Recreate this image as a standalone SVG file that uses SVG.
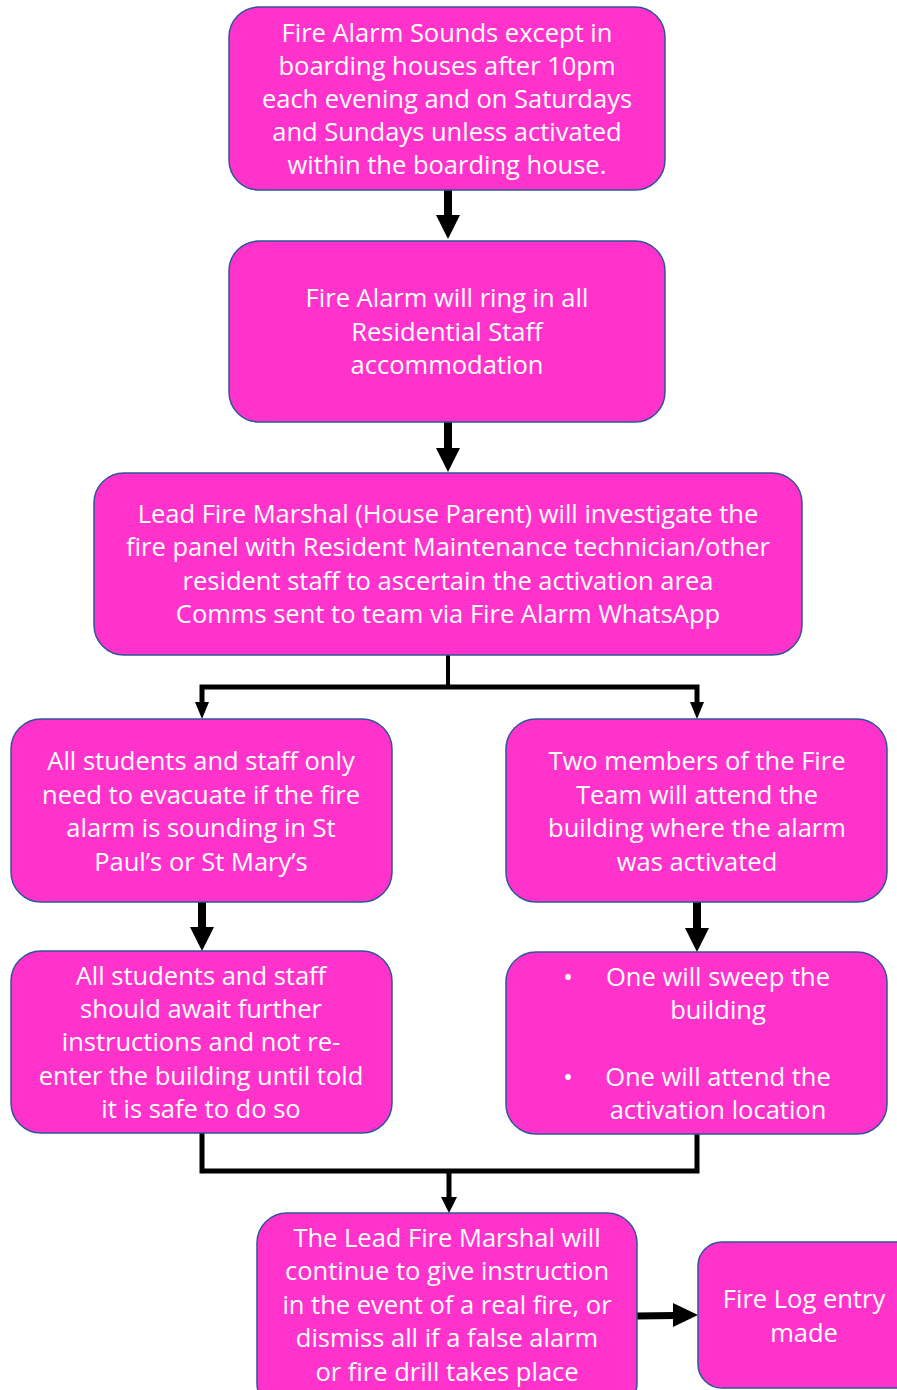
<svg xmlns="http://www.w3.org/2000/svg" width="897" height="1390" viewBox="0 0 897 1390">
<defs>
<style>
.box{fill:#FF33CC;stroke:#2F5597;stroke-width:1.5}
text{font-family:"Open Sans","Liberation Sans",sans-serif;font-size:25.5px;fill:#fff;text-anchor:middle}
.c{fill:none;stroke:#000;stroke-linejoin:miter}
.h{fill:#000}
</style>
</defs>
<rect width="897" height="1390" fill="#fff"/>
<g id="connectors">
<line class="c" x1="448" y1="190" x2="448" y2="216" stroke-width="8"/>
<polygon class="h" points="436,215 460,215 448,239"/>
<line class="c" x1="448" y1="422" x2="448" y2="449" stroke-width="8"/>
<polygon class="h" points="436,448 460,448 448,472"/>
<polyline class="c" points="448,655 448,687" stroke-width="4"/>
<polyline class="c" points="202,704 202,687 697,687 697,704" stroke-width="5"/>
<polygon class="h" points="195,702 209,702 202,719"/>
<polygon class="h" points="690,702 704,702 697,719"/>
<line class="c" x1="202" y1="902" x2="202" y2="928" stroke-width="8"/>
<polygon class="h" points="190,927 214,927 202,951"/>
<line class="c" x1="697" y1="902" x2="697" y2="929" stroke-width="8"/>
<polygon class="h" points="685,928 709,928 697,952"/>
<polyline class="c" points="202,1133 202,1171 697,1171 697,1134" stroke-width="5"/>
<line class="c" x1="449" y1="1171" x2="449" y2="1200" stroke-width="5"/>
<polygon class="h" points="441,1197 457,1197 449,1213"/>
<line class="c" x1="637" y1="1316" x2="675" y2="1315.5" stroke-width="7"/>
<polygon class="h" points="673,1303 673,1327 698,1315"/>
</g>
<g id="n1">
<rect class="box" x="229" y="7" width="436" height="183" rx="30"/>
<text x="447" y="42">Fire Alarm Sounds except in</text>
<text x="447" y="75">boarding houses after 10pm</text>
<text x="447" y="108">each evening and on Saturdays</text>
<text x="447" y="141">and Sundays unless activated</text>
<text x="447" y="174">within the boarding house.</text>
</g>
<g id="n2">
<rect class="box" x="229" y="241" width="436" height="181" rx="30"/>
<text x="447" y="307">Fire Alarm will ring in all</text>
<text x="447" y="341">Residential Staff</text>
<text x="447" y="374">accommodation</text>
</g>
<g id="n3">
<rect class="box" x="94" y="473" width="708" height="182" rx="30"/>
<text x="448" y="523">Lead Fire Marshal (House Parent) will investigate the</text>
<text x="448" y="556">fire panel with Resident Maintenance technician/other</text>
<text x="448" y="590">resident staff to ascertain the activation area</text>
<text x="448" y="623">Comms sent to team via Fire Alarm WhatsApp</text>
</g>
<g id="n4">
<rect class="box" x="11" y="719" width="381" height="183" rx="30"/>
<text x="201" y="770">All students and staff only</text>
<text x="201" y="804">need to evacuate if the fire</text>
<text x="201" y="837">alarm is sounding in St</text>
<text x="201" y="871">Paul’s or St Mary’s</text>
</g>
<g id="n5">
<rect class="box" x="506" y="719" width="381" height="183" rx="30"/>
<text x="697" y="770">Two members of the Fire</text>
<text x="697" y="804">Team will attend the</text>
<text x="697" y="837">building where the alarm</text>
<text x="697" y="871">was activated</text>
</g>
<g id="n6">
<rect class="box" x="11" y="951" width="381" height="182" rx="30"/>
<text x="201" y="985">All students and staff</text>
<text x="201" y="1018">should await further</text>
<text x="201" y="1051">instructions and not re-</text>
<text x="201" y="1085">enter the building until told</text>
<text x="201" y="1118">it is safe to do so</text>
</g>
<g id="n7">
<rect class="box" x="506" y="952" width="381" height="182" rx="30"/>
<text x="568" y="986">•</text>
<text x="718" y="986">One will sweep the</text>
<text x="718" y="1019">building</text>
<text x="568" y="1086">•</text>
<text x="718" y="1086">One will attend the</text>
<text x="718" y="1119">activation location</text>
</g>
<g id="n8">
<rect class="box" x="257" y="1213" width="380" height="200" rx="30"/>
<text x="447" y="1247">The Lead Fire Marshal will</text>
<text x="447" y="1280">continue to give instruction</text>
<text x="447" y="1314">in the event of a real fire, or</text>
<text x="447" y="1347">dismiss all if a false alarm</text>
<text x="447" y="1381">or fire drill takes place</text>
</g>
<g id="n9">
<rect class="box" x="698" y="1242" width="230" height="146" rx="24"/>
<text x="804" y="1308">Fire Log entry</text>
<text x="804" y="1342">made</text>
</g>
</svg>
